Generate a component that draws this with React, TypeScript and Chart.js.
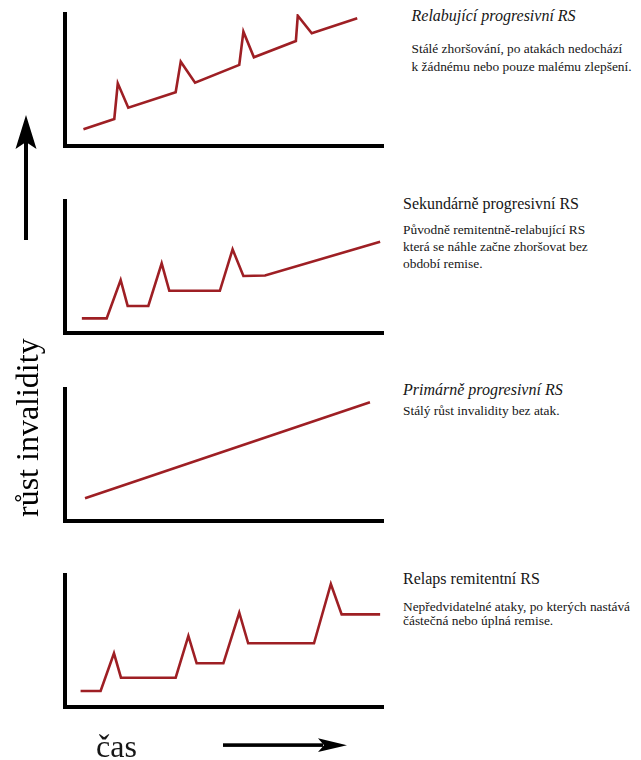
import React, { useEffect, useRef } from "react";
import { Chart, registerables } from "chart.js";

Chart.register(...registerables);

// ---- data (time vs. disability, abstract units 0..100) ----
const relabujiciCas = [5.8, 15.5, 16.6, 19.9, 34.8, 36.4, 40.9, 54.8, 56.1, 59.4, 72.6, 73.2, 77.6, 91.9];
const relabujiciInvalidita = [12.7, 20.5, 47.5, 29.0, 40.7, 63.9, 48.0, 61.4, 86.6, 67.2, 79.5, 98.7, 85.4, 96.7];

const sekundarniCas = [5.3, 13.1, 17.5, 19.7, 26.2, 30.4, 32.8, 48.7, 52.7, 56.1, 62.9, 99.1];
const sekundarniInvalidita = [11.1, 11.1, 40.2, 20.5, 20.5, 52.8, 32.0, 32.0, 63.4, 43.2, 43.6, 69.2];

const primarniCas = [6.3, 95.9];
const primarniInvalidita = [17.2, 89.9];

const remitentniCas = [4.9, 11.2, 15.4, 17.6, 34.8, 38.8, 41.4, 49.8, 54.8, 57.6, 78.3, 83.6, 87.0, 99.1];
const remitentniInvalidita = [12.1, 12.1, 40.7, 22.2, 22.2, 53.8, 33.1, 33.1, 71.4, 48.3, 48.3, 93.2, 70.2, 70.2];

const panelTitles = [
  "Relabující progresivní RS",
  "Sekundárně progresivní RS",
  "Primárně progresivní RS",
  "Relaps remitentní RS",
];
const panelDescriptions = [
  ["Stálé zhoršování, po atakách nedochází", "k žádnému nebo pouze malému zlepšení."],
  ["Původně remitentně-relabující RS", "která se náhle začne zhoršovat bez", "období remise."],
  ["Stálý růst invalidity bez atak."],
  ["Nepředvidatelné ataky, po kterých nastává", "částečná nebo úplná remise."],
];
const yAxisLabel = "růst invalidity";
const xAxisLabel = "čas";

// ---- layout / style ----
const SERIF = '"Liberation Serif", "Times New Roman", serif';
const LINE_COLOR = "#9e1f24";
const CANVAS_LEFT = 40;
const CANVAS_WIDTH = 360;
const AREA_LEFT = 65;
const AREA_RIGHT = 383;
const AREA_HEIGHT = 132;
const PAD = 8;

const panelAreaTops = [14, 201, 389, 575];
const titleItalic = [true, false, true, false];
const textLeft = [411.5, 403, 403, 403];
const titleBaseline = [21, 209, 395, 584];
const descBaselines = [
  [53, 71.5],
  [234, 251, 268],
  [415.5],
  [611, 625],
];

function Panel({ times, values, areaTop }: { times: number[]; values: number[]; areaTop: number }) {
  const ref = useRef<HTMLCanvasElement | null>(null);
  useEffect(() => {
    if (!ref.current) return;
    const points = times.map((t, i) => ({ x: t, y: values[i] }));
    const axis = (min: number, max: number) => ({
      type: "linear" as const,
      min,
      max,
      grid: { display: false, drawTicks: false, tickLength: 0 },
      ticks: { display: false },
      border: { display: true, color: "#000", width: 4 },
    });
    const chart = new Chart(ref.current, {
      type: "line",
      data: {
        datasets: [
          {
            data: points,
            borderColor: LINE_COLOR,
            borderWidth: 2.6,
            pointRadius: 0,
            fill: false,
            tension: 0,
            borderJoinStyle: "miter",
          },
        ],
      },
      options: {
        responsive: false,
        animation: false,
        events: [],
        plugins: { legend: { display: false }, tooltip: { enabled: false } },
        layout: {
          padding: {
            left: AREA_LEFT - CANVAS_LEFT,
            right: CANVAS_LEFT + CANVAS_WIDTH - AREA_RIGHT,
            top: PAD,
            bottom: PAD,
          },
        },
        scales: { x: axis(0, 100), y: axis(0, 100) },
      },
    });
    return () => chart.destroy();
  }, [times, values]);
  return (
    <canvas
      ref={ref}
      width={CANVAS_WIDTH}
      height={AREA_HEIGHT + 2 * PAD}
      style={{
        position: "absolute",
        left: CANVAS_LEFT,
        top: areaTop - PAD,
        width: CANVAS_WIDTH,
        height: AREA_HEIGHT + 2 * PAD,
      }}
    />
  );
}

function TextLine({ x, baseline, size, italic, children }: any) {
  return (
    <div
      style={{
        position: "absolute",
        left: x,
        top: baseline - 0.8375 * size,
        fontFamily: SERIF,
        fontSize: size,
        lineHeight: `${size}px`,
        fontStyle: italic ? "italic" : "normal",
        whiteSpace: "nowrap",
        color: "#161616",
      }}
    >
      {children}
    </div>
  );
}

export default function App() {
  const series = [
    [relabujiciCas, relabujiciInvalidita],
    [sekundarniCas, sekundarniInvalidita],
    [primarniCas, primarniInvalidita],
    [remitentniCas, remitentniInvalidita],
  ];
  return (
    <div style={{ position: "absolute", left: 0, top: 0, width: 641, height: 760, background: "#fff", overflow: "hidden" }}>
      {series.map(([t, v], i) => (
        <Panel key={i} times={t} values={v} areaTop={panelAreaTops[i]} />
      ))}
      {panelTitles.map((title, i) => (
        <React.Fragment key={i}>
          <TextLine x={textLeft[i]} baseline={titleBaseline[i]} size={16} italic={titleItalic[i]}>
            {title}
          </TextLine>
          {panelDescriptions[i].map((line, j) => (
            <TextLine key={j} x={textLeft[i]} baseline={descBaselines[i][j]} size={13.4}>
              {line}
            </TextLine>
          ))}
        </React.Fragment>
      ))}
      <svg width={641} height={760} style={{ position: "absolute", left: 0, top: 0 }}>
        <rect x={24} y={140} width={4} height={100} fill="#000" />
        <polygon points="26,115 36.5,149 26,142 15.5,149" fill="#000" />
        <rect x={223} y={743.3} width={100} height={3.6} fill="#000" />
        <polygon points="347,745.2 318,738.3 324,745.2 318,752" fill="#000" />
      </svg>
      <div
        style={{
          position: "absolute",
          left: 38 - 0.8375 * 32,
          top: 517,
          transformOrigin: "left top",
          transform: "rotate(-90deg)",
          fontFamily: SERIF,
          fontSize: 32,
          lineHeight: "32px",
          whiteSpace: "nowrap",
          color: "#000",
        }}
      >
        {yAxisLabel}
      </div>
      <TextLine x={96} baseline={757} size={32}>
        {xAxisLabel}
      </TextLine>
    </div>
  );
}
